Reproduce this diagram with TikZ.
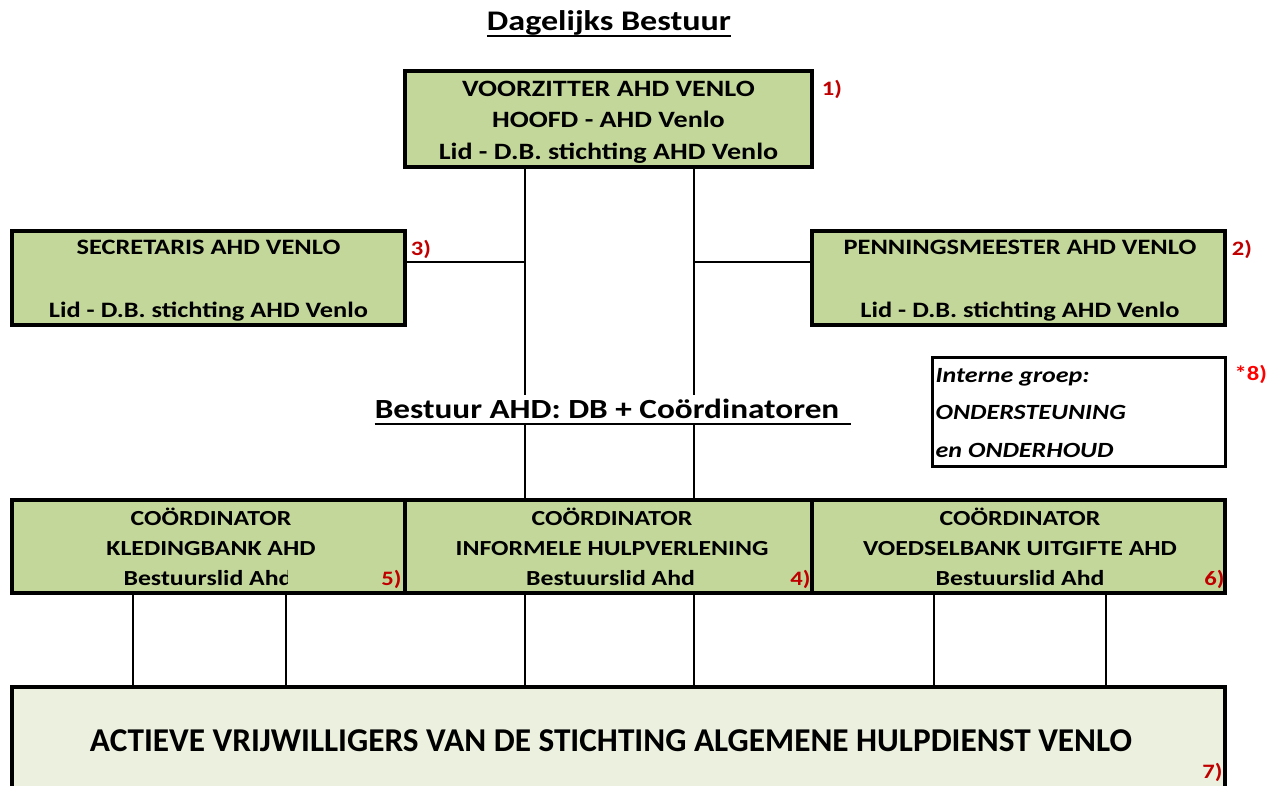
\documentclass[tikz,border=0pt]{standalone}
\usepackage{fontspec}
\setmainfont{Carlito}[FakeStretch=1.2]
\newfontfamily\narrowfont{Carlito}
\usetikzlibrary{calc}
\definecolor{boxgreen}{HTML}{C4D79B}
\definecolor{palegreen}{HTML}{EBF1DE}
\definecolor{numred}{HTML}{C00000}
\definecolor{brightred}{HTML}{FF0000}
\begin{document}
\begin{tikzpicture}[x=1pt,y=-1pt,
  box/.style={draw,line width=3.5pt,fill=boxgreen,inner sep=0pt},
  boxtext/.style={inner sep=0pt,align=center,font=\bfseries\fontsize{22}{31.5}\selectfont},
  rowtext/.style={inner sep=0pt,font=\bfseries\fontsize{21.5}{30.5}\selectfont},
  num/.style={inner sep=0pt,text=numred,font=\bfseries\fontsize{20.5}{22}\selectfont},
  conn/.style={line width=1.6pt}]
\clip (0,0) rectangle (1274,785);
\fill[white] (0,0) rectangle (1274,785);
% column positions of the connectors
\coordinate (la) at (525,0);
\coordinate (lb) at (694,0);
\coordinate (hl) at (0,262);
\coordinate (c1) at (133,0);
\coordinate (c2) at (286,0);
\coordinate (c3) at (934,0);
\coordinate (c4) at (1106,0);
% title
\node[inner sep=0pt,font=\bfseries\fontsize{28.4}{30}\selectfont] (dbtitle) at (609,23) {Dagelijks Bestuur};
\draw[line width=2pt] ($(dbtitle.base west)+(0,5)$) -- ($(dbtitle.base east)+(0,5)$);
% daily board
\node[box,minimum width=407pt,minimum height=96pt] (vz) at (608.5,119) {};
\node[boxtext,font=\bfseries\fontsize{23.4}{31.5}\selectfont] (vztext) at ($(vz.center)+(0,3)$) {VOORZITTER AHD VENLO\\HOOFD - AHD Venlo\\Lid - D.B. stichting AHD Venlo};
\node[box,minimum width=393pt,minimum height=94pt] (sec) at (208.5,278) {};
\node[boxtext] (sectext) at ($(sec.center)+(0,3)$) {SECRETARIS AHD VENLO\\\mbox{}\\Lid - D.B. stichting AHD Venlo};
\node[box,minimum width=413pt,minimum height=94pt] (pen) at (1018.5,278) {};
\node[boxtext] (pentext) at ($(pen.center)+(1.5,3)$) {PENNINGSMEESTER AHD VENLO\\\mbox{}\\Lid - D.B. stichting AHD Venlo};
\node[draw,line width=3pt,fill=white,inner sep=0pt,minimum width=293pt,minimum height=109pt] (ig) at (1078.5,411.5) {};
\node[anchor=west,inner sep=0pt,align=left,font=\bfseries\itshape\fontsize{21.7}{37.5}\selectfont] (igtext) at ($(ig.west)+(5,1.5)$) {Interne groep:\\ONDERSTEUNING\\en ONDERHOUD};
% coordinators
\node[box,minimum width=393pt,minimum height=93pt] (kb) at (208.5,546.5) {};
\node[box,minimum width=407pt,minimum height=93pt] (ih) at (608.5,546.5) {};
\node[box,minimum width=413pt,minimum height=93pt] (vb) at (1018.5,546.5) {};
\node[rowtext,align=center] (kbtext) at (211,532) {COÖRDINATOR\\KLEDINGBANK AHD};
\node[rowtext,align=center] (ihtext) at (612,532) {COÖRDINATOR\\INFORMELE HULPVERLENING};
\node[rowtext,align=center] (vbtext) at (1020,532) {COÖRDINATOR\\VOEDSELBANK UITGIFTE AHD};
\begin{scope}
\clip (14,560) rectangle (287,591);
\node[rowtext] at (208,578) {Bestuurslid Ahd};
\end{scope}
\begin{scope}
\clip (407,560) rectangle (694,591);
\node[rowtext] at (610.5,578) {Bestuurslid Ahd};
\end{scope}
\node[rowtext] at (1020,578) {Bestuurslid Ahd};
% volunteers
\node[draw,line width=3.5pt,fill=palegreen,inner sep=0pt,minimum width=1213pt,minimum height=130pt] (vw) at (618.5,752) {};
\node[inner sep=0pt,font=\narrowfont\bfseries\fontsize{33.3}{36}\selectfont] (vwtext) at (611,741) {ACTIEVE VRIJWILLIGERS VAN DE STICHTING ALGEMENE HULPDIENST VENLO};
% connectors
\draw[conn] (vz.south -| la) -- (ih.north -| la);
\draw[conn] (vz.south -| lb) -- (ih.north -| lb);
\draw[conn] (sec.east |- hl) -- (hl -| la);
\draw[conn] (hl -| lb) -- (pen.west |- hl);
\foreach \c/\b in {c1/kb,c2/kb,la/ih,lb/ih,c3/vb,c4/vb}
  \draw[conn] (\b.south -| \c) -- (vw.north -| \c);
\node[fill=white,inner sep=4pt,font=\bfseries\fontsize{27.7}{30}\selectfont] (bestuur) at (607,409) {Bestuur AHD: DB + Coördinatoren};
\draw[line width=2pt] ($(bestuur.base west)+(4,5)$) -- ($(bestuur.base east)+(8,5)$);
% numbers
\node[num,anchor=west] at ($(vz.north east)+(8,20)$) {1)};
\node[num,anchor=west] at ($(sec.north east)+(4,20)$) {3)};
\node[num,anchor=west] at ($(pen.north east)+(5,20)$) {2)};
\node[num,anchor=west,text=brightred] at ($(ig.north east)+(8,19)$) {*8)};
\node[num,anchor=east] at ($(kb.south east)+(-5,-15)$) {5)};
\node[num,anchor=east] at ($(ih.south east)+(-3,-15)$) {4)};
\node[num,anchor=east] at ($(vb.south east)+(-2,-15)$) {6)};
\node[num,anchor=east] at ($(vw.north east)+(-4,87)$) {7)};
\end{tikzpicture}
\end{document}
